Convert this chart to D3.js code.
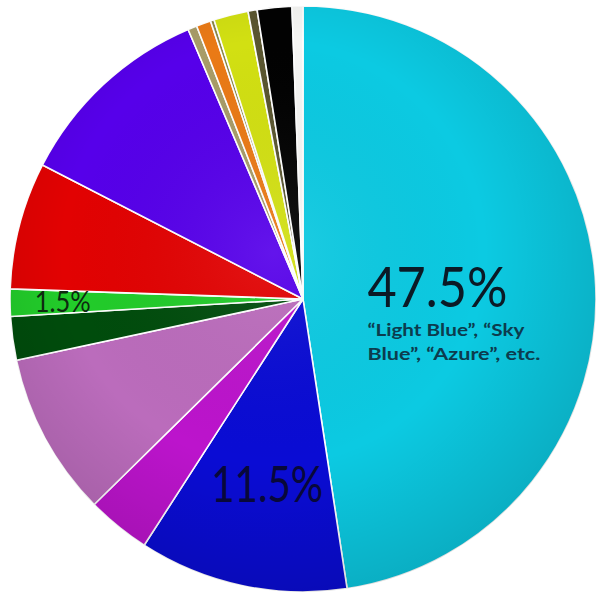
<!DOCTYPE html>
<html>
<head>
<meta charset="utf-8">
<script src="https://cdn.jsdelivr.net/npm/d3@7"></script>
<style>
  body { margin: 0; background: #fff; }
  svg { display: block; font-family: Lato, "Open Sans", sans-serif; }
</style>
</head>
<body>
<div id="chart"></div>
<script>
// slices, clockwise from 12 o'clock
const categories = ["Light Blue", "Blue", "Magenta", "Orchid", "Dark Green", "Green", "Red",
                    "Violet", "Tan", "Orange", "Olive", "Yellow Green", "Dark Olive", "Black", "White"];
const values = [47.5, 11.5, 3.5, 9, 2.4, 1.5, 7, 11, 0.5, 0.8, 0.2, 1.9, 0.5, 1.9, 0.6];
const colors = ["#0ccae2", "#0a0cd4", "#bc14cc", "#bb6cbc", "#004c0c", "#22cc2a", "#e20202",
                "#5600ea", "#a89c68", "#ea7a16", "#8c8848", "#d2e012", "#5a5630", "#020202", "#f6f6f4"];
const labels = [
    { index: 0, text: "47.5%", sub: ["\u201CLight Blue\u201D, \u201CSky", "Blue\u201D, \u201CAzure\u201D, etc."] },
    { index: 1, text: "11.5%" },
    { index: 5, text: "1.5%" }
];

const width = 604, height = 595;
const cx = 303, cy = 299, radius = 293;

const svg = d3.select("#chart").append("svg")
    .attr("width", width)
    .attr("height", height);

// soft shading toward the rim
const defs = svg.append("defs");
const grad = defs.append("radialGradient")
    .attr("id", "shade")
    .attr("cx", "45%").attr("cy", "42%").attr("r", "60%");
grad.append("stop").attr("offset", "0%").attr("stop-color", "#fff").attr("stop-opacity", 0.08);
grad.append("stop").attr("offset", "60%").attr("stop-color", "#000").attr("stop-opacity", 0);
grad.append("stop").attr("offset", "100%").attr("stop-color", "#000").attr("stop-opacity", 0.14);

const g = svg.append("g").attr("transform", `translate(${cx},${cy})`);

const data = categories.map((c, i) => ({ name: c, value: values[i], color: colors[i] }));

const pie = d3.pie()
    .sort(null)
    .value(d => d.value);

const arc = d3.arc()
    .innerRadius(0)
    .outerRadius(radius);

const arcs = pie(data);

g.selectAll("path.slice")
    .data(arcs)
    .enter()
    .append("path")
    .attr("class", "slice")
    .attr("d", arc)
    .attr("fill", d => d.data.color)
    .attr("stroke", "#fff")
    .attr("stroke-width", 1.6)
    .attr("stroke-linejoin", "round");

g.append("circle")
    .attr("r", radius)
    .attr("fill", "url(#shade)")
    .attr("pointer-events", "none");

// label radius per slice (as share of the radius)
const labelArc = r => d3.arc().innerRadius(radius * r).outerRadius(radius * r);

// big label in the light blue slice
const big = arcs[labels[0].index];
const pBig = labelArc(0.46).centroid(big);
g.append("text")
    .attr("x", pBig[0])
    .attr("y", pBig[1] + 18)
    .attr("text-anchor", "middle")
    .attr("textLength", 140)
    .attr("lengthAdjust", "spacingAndGlyphs")
    .style("font-size", "56px")
    .style("fill", "#0b1a26")
    .text(labels[0].text);

g.selectAll("text.sub")
    .data(labels[0].sub)
    .enter()
    .append("text")
    .attr("class", "sub")
    .attr("x", pBig[0] - 70)
    .attr("y", (d, i) => pBig[1] + 47 + i * 24)
    .attr("textLength", (d, i) => i === 0 ? 157 : 173)
    .attr("lengthAdjust", "spacingAndGlyphs")
    .style("font-size", "17px")
    .style("font-weight", "bold")
    .style("fill", "#0c3c4e")
    .text(d => d);

// 11.5%
const pBlue = labelArc(0.65).centroid(arcs[labels[1].index]);
g.append("text")
    .attr("x", pBlue[0] + 4)
    .attr("y", pBlue[1] + 17)
    .attr("text-anchor", "middle")
    .attr("textLength", 112)
    .attr("lengthAdjust", "spacingAndGlyphs")
    .style("font-size", "50px")
    .style("fill", "#08083a")
    .text(labels[1].text);

// 1.5%
const pGreen = labelArc(0.82).centroid(arcs[labels[2].index]);
g.append("text")
    .attr("x", pGreen[0])
    .attr("y", pGreen[1] + 10)
    .attr("text-anchor", "middle")
    .attr("textLength", 56)
    .attr("lengthAdjust", "spacingAndGlyphs")
    .style("font-size", "28px")
    .style("fill", "#0e2a10")
    .text(labels[2].text);
</script>
</body>
</html>
